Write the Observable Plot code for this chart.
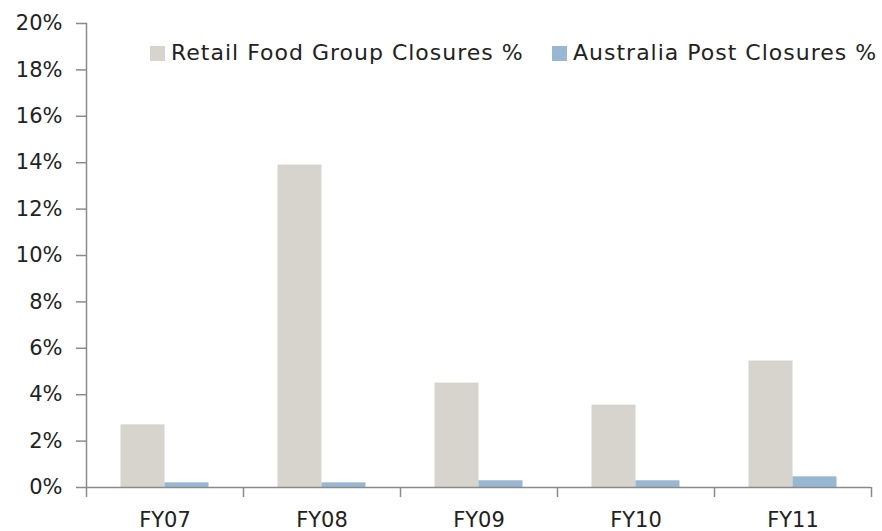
<!DOCTYPE html>
<html>
<head>
<meta charset="utf-8">
<script src="https://cdn.jsdelivr.net/npm/d3@7"></script>
<script src="https://cdn.jsdelivr.net/npm/@observablehq/plot@0.6"></script>
<style>
  html, body { margin: 0; padding: 0; background: #fff; }
  #wrap { position: relative; width: 882px; height: 531px; font-family: "DejaVu Sans", sans-serif; color: #222; }
  .sw { position: absolute; width: 15px; height: 15px; }
  .lt { position: absolute; font-size: 22px; letter-spacing: 1px; line-height: 1; white-space: nowrap; }
</style>
</head>
<body>
<div id="wrap"></div>
<script>
const categories = ["FY07", "FY08", "FY09", "FY10", "FY11"];
const seriesNames = ["Retail Food Group Closures %", "Australia Post Closures %"];
const retailFood = [2.7, 13.9, 4.5, 3.55, 5.45];
const ausPost = [0.2, 0.2, 0.29, 0.29, 0.46];
const yTicks = [0, 2, 4, 6, 8, 10, 12, 14, 16, 18, 20];
const colors = ["#d7d3cd", "#98b7d3"];

const rfData = categories.map((c, i) => ({cat: c, v: retailFood[i]}));
const apData = categories.map((c, i) => ({cat: c, v: ausPost[i]}));

const axisColor = "#8a8a8a";

const chart = Plot.plot({
  width: 882,
  height: 531,
  marginLeft: 86,
  marginRight: 11,
  marginTop: 23,
  marginBottom: 44,
  style: {fontFamily: "'DejaVu Sans', sans-serif", fontSize: "21px", color: "#222", background: "transparent"},
  x: {domain: categories, padding: 0, axis: null},
  y: {domain: [0, 20], axis: null},
  marks: [
    Plot.barY(rfData, {x: "cat", y: "v", fill: colors[0], insetLeft: 34.5, insetRight: 78.5}),
    Plot.barY(apData, {x: "cat", y: "v", fill: colors[1], insetLeft: 78.5, insetRight: 34.5}),
    Plot.axisY(yTicks, {tickSize: 10, tickPadding: 14, tickFormat: d => d + "%", stroke: axisColor, fill: "#222", label: null, strokeWidth: 1.5}),
    Plot.frame({anchor: "left", stroke: axisColor, strokeWidth: 1.5}),
    Plot.ruleY([0], {stroke: axisColor, strokeWidth: 1.5}),
    Plot.axisX(categories, {tickSize: 10, dx: -78.5, text: null, stroke: axisColor, strokeWidth: 1.5, label: null}),
    Plot.axisX([categories[categories.length - 1]], {tickSize: 10, dx: 78.5, text: null, stroke: axisColor, strokeWidth: 1.5, label: null}),
    Plot.axisX(categories, {tickSize: 0, tickPadding: 25, fill: "#222", label: null})
  ]
});

const wrap = document.getElementById("wrap");
wrap.appendChild(chart);
chart.style.position = "absolute";
chart.style.left = "0";
chart.style.top = "0";

const legendPos = [{sx: 150, tx: 171}, {sx: 552, tx: 573}];
seriesNames.forEach((name, i) => {
  const sw = document.createElement("div");
  sw.className = "sw";
  sw.style.left = legendPos[i].sx + "px";
  sw.style.top = "46px";
  sw.style.background = colors[i];
  wrap.appendChild(sw);
  const t = document.createElement("div");
  t.className = "lt";
  t.style.left = legendPos[i].tx + "px";
  t.style.top = "42px";
  t.textContent = name;
  wrap.appendChild(t);
});
</script>
</body>
</html>
